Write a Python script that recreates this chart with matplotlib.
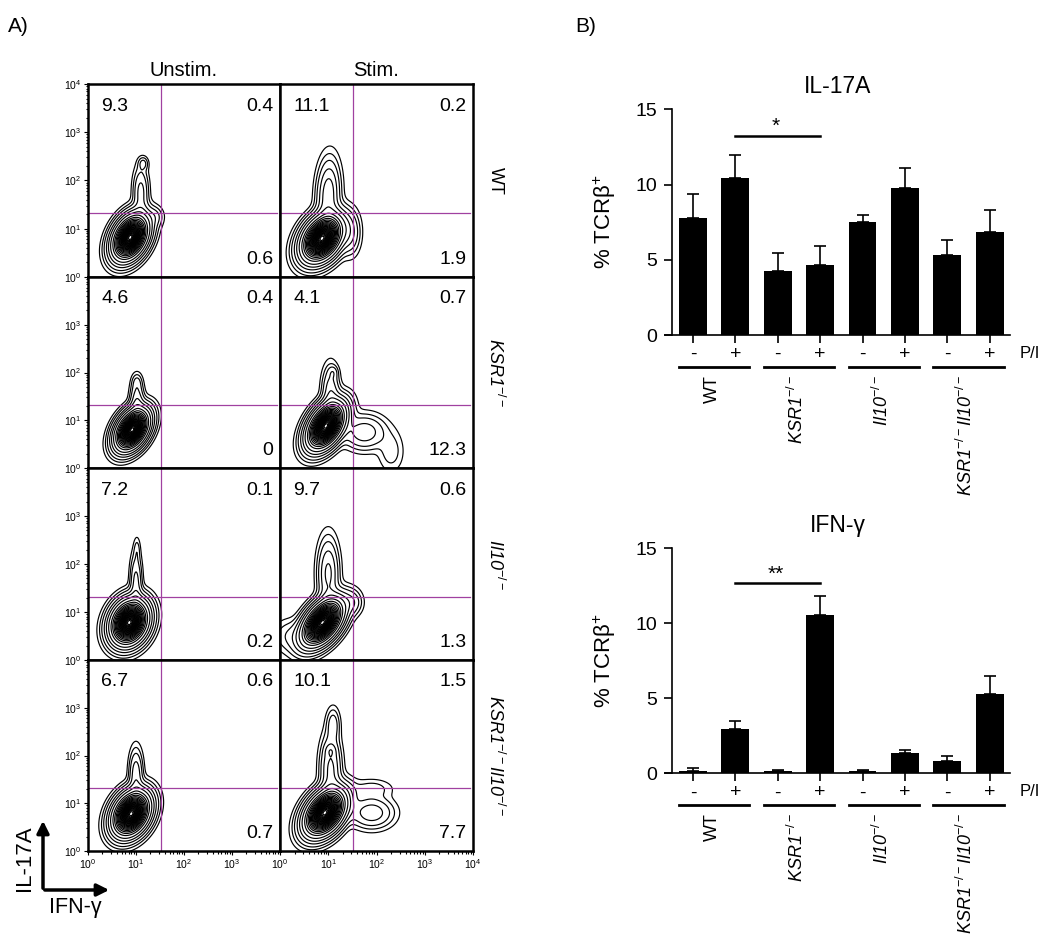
import numpy as np
import matplotlib
matplotlib.use("Agg")
import matplotlib.pyplot as plt

plt.rcParams['font.family'] = ['Liberation Sans', 'DejaVu Sans']
plt.rcParams['mathtext.fontset'] = 'custom'
plt.rcParams['mathtext.rm'] = 'Liberation Sans'
plt.rcParams['mathtext.it'] = 'Liberation Sans:italic'
plt.rcParams['mathtext.bf'] = 'Liberation Sans:bold'

# ---------------- data ----------------
genotypes = ['WT', r'KSR1$^{\mathit{-/-}}$', r'Il10$^{\mathit{-/-}}$',
             r'KSR1$^{\mathit{-/-}}$Il10$^{\mathit{-/-}}$']
genotype_italic = [False, True, True, True]
conditions = ['Unstim.', 'Stim.']
# quadrant percentages per panel: (upper-left, upper-right, lower-right)
quad_vals = [
    [('9.3', '0.4', '0.6'), ('11.1', '0.2', '1.9')],
    [('4.6', '0.4', '0'), ('4.1', '0.7', '12.3')],
    [('7.2', '0.1', '0.2'), ('9.7', '0.6', '1.3')],
    [('6.7', '0.6', '0.7'), ('10.1', '1.5', '7.7')],
]
gate_x = 33
gate_y = 21
# population blobs per panel in log10 units: (cx, cy, sx, sy, rho, weight)
populations = [
    [[(0.88, 0.82, 0.19, 0.24, 0.35, 1.0), (1.10, 1.75, 0.09, 0.30, 0.0, 0.025),
      (1.15, 2.35, 0.06, 0.08, 0.0, 0.012), (1.40, 1.25, 0.10, 0.12, 0.0, 0.01)],
     [(0.87, 0.80, 0.22, 0.25, 0.35, 1.0), (1.00, 1.70, 0.13, 0.40, 0.1, 0.05),
      (1.45, 0.90, 0.12, 0.25, 0.0, 0.02)]],
    [[(0.92, 0.80, 0.18, 0.22, 0.40, 1.0), (1.02, 1.40, 0.08, 0.25, 0.0, 0.03),
      (1.02, 1.80, 0.06, 0.10, 0.0, 0.008)],
     [(0.95, 0.88, 0.20, 0.25, 0.45, 1.0), (1.05, 1.60, 0.10, 0.30, 0.0, 0.03),
      (1.10, 2.00, 0.06, 0.08, 0.0, 0.01), (1.75, 0.75, 0.25, 0.20, 0.0, 0.03),
      (2.30, 0.35, 0.15, 0.25, 0.0, 0.008)]],
    [[(0.86, 0.78, 0.20, 0.24, 0.20, 1.0), (1.00, 1.60, 0.07, 0.35, 0.0, 0.025),
      (1.02, 2.30, 0.04, 0.15, 0.0, 0.006)],
     [(0.88, 0.78, 0.22, 0.25, 0.50, 1.0), (1.00, 1.80, 0.12, 0.40, 0.0, 0.04),
      (1.50, 1.20, 0.12, 0.15, 0.0, 0.015), (0.20, 0.50, 0.20, 0.20, 0.0, 0.01)]],
    [[(0.90, 0.78, 0.20, 0.24, 0.30, 1.0), (1.00, 1.60, 0.08, 0.30, 0.0, 0.03)],
     [(0.93, 0.80, 0.22, 0.25, 0.40, 1.0), (1.05, 1.70, 0.12, 0.40, 0.0, 0.04),
      (1.05, 2.10, 0.07, 0.08, 0.0, 0.012), (1.10, 2.65, 0.08, 0.20, 0.0, 0.015),
      (1.90, 0.80, 0.25, 0.18, 0.0, 0.03), (1.90, 1.30, 0.25, 0.12, 0.0, 0.008)]],
]

bar_labels = ['-', '+'] * 4
group_names = genotypes
il17_mean = [7.75, 10.45, 4.27, 4.62, 7.53, 9.78, 5.33, 6.87]
il17_top = [9.35, 11.93, 5.45, 5.93, 7.98, 11.1, 6.29, 8.33]
ifng_mean = [0.15, 2.93, 0.15, 10.58, 0.15, 1.38, 0.8, 5.27]
ifng_top = [0.33, 3.47, 0.25, 11.82, 0.25, 1.55, 1.15, 6.47]

W, H = 1050, 947
fig = plt.figure(figsize=(W / 100, H / 100), dpi=100)


def rect(x0, y0, x1, y1):
    return [x0 / W, 1 - y1 / H, (x1 - x0) / W, (y1 - y0) / H]


# ---------------- panel A: contour plots ----------------
col_edges = [88, 280, 473]
row_edges = [84, 277, 468, 660, 851]
g = np.linspace(-0.4, 4.0, 400)
GX, GY = np.meshgrid(g, g)
levels = [0.002, 0.005, 0.01, 0.02, 0.035] + list(np.linspace(0.06, 0.97, 24))

for r in range(4):
    for c in range(2):
        ax = fig.add_axes(rect(col_edges[c], row_edges[r], col_edges[c + 1], row_edges[r + 1]))
        z = np.zeros_like(GX)
        for k, (cx, cy, sx, sy, rho, w) in enumerate(populations[r][c]):
            dx = (GX - cx) / sx
            dy = (GY - cy) / sy
            q = (dx ** 2 - 2 * rho * dx * dy + dy ** 2) / (1 - rho ** 2)
            if k == 0:
                # main population: broad body with a sharper core
                z += w * (0.6 * np.exp(-0.5 * q) + 0.4 * np.exp(-0.5 * q / 0.3))
            else:
                z += w * np.exp(-0.5 * q)
        z = z / z.max()
        ax.contour(10 ** GX, 10 ** GY, z, levels=levels, colors='black', linewidths=0.85)
        ax.set_xscale('log')
        ax.set_yscale('log')
        ax.set_xlim(1, 1e4)
        ax.set_ylim(1, 1e4)
        ax.axvline(gate_x, color='#a040a0', lw=0.9)
        ax.axhline(gate_y, color='#a040a0', lw=0.9, xmax=0.985)
        for s in ax.spines.values():
            s.set_linewidth(1.8)
        ul, ur, lr = quad_vals[r][c]
        ax.text(0.07, 0.885, ul, transform=ax.transAxes, fontsize=14, va='center', ha='left')
        ax.text(0.965, 0.885, ur, transform=ax.transAxes, fontsize=14, va='center', ha='right')
        ax.text(0.965, 0.09, lr, transform=ax.transAxes, fontsize=14, va='center', ha='right')
        ax.tick_params(which='both', direction='out', labelsize=7.5, width=0.8)
        ax.tick_params(which='major', length=3)
        ax.tick_params(which='minor', length=1.8)
        ax.tick_params(top=False, right=False)
        if c == 1:
            ax.tick_params(axis='y', which='both', left=False, labelleft=False)
        else:
            ax.set_yticks([1, 10, 100, 1000, 10000] if r == 0 else [1, 10, 100, 1000])
        if r < 3:
            ax.tick_params(axis='x', which='both', bottom=False, labelbottom=False)
        else:
            ax.set_xticks([1, 10, 100, 1000, 10000] if c == 1 else [1, 10, 100, 1000])
        ax.tick_params(pad=1.5)
        if r == 0:
            ax.set_title(conditions[c], fontsize=14.5, pad=6)
        if c == 1:
            fig.text(495 / W, 1 - (row_edges[r] + row_edges[r + 1]) / 2 / H, genotypes[r],
                     rotation=-90, ha='center', va='center', fontsize=13,
                     style='italic' if genotype_italic[r] else 'normal')

fig.text(8 / W, 1 - 26 / H, 'A)', fontsize=15, va='center', ha='left')
fig.text(575 / W, 1 - 26 / H, 'B)', fontsize=15, va='center', ha='left')

# axis arrows
fig.add_artist(matplotlib.patches.FancyArrowPatch((43 / W, 1 - 891 / H), (43 / W, 1 - 818 / H),
               transform=fig.transFigure, arrowstyle='-|>', mutation_scale=18, lw=2.5, color='black'))
fig.add_artist(matplotlib.patches.FancyArrowPatch((42 / W, 1 - 890 / H), (112 / W, 1 - 890 / H),
               transform=fig.transFigure, arrowstyle='-|>', mutation_scale=18, lw=2.5, color='black'))
fig.text(25 / W, 1 - 858 / H, 'IL-17A', rotation=90, fontsize=16, ha='center', va='center')
fig.text(75 / W, 1 - 907 / H, 'IFN-γ', fontsize=15.5, ha='center', va='center')

# ---------------- panel B: bar charts ----------------
x = np.arange(8)


def bar_panel(y_top, y_bottom, means, tops, title, sig_y, sig_text, ylab_y):
    ax = fig.add_axes(rect(665, y_top, 1010, y_bottom))
    ax.set_xlim(-0.66, 7.48)
    ax.set_ylim(0, 15)
    err = np.array(tops) - np.array(means)
    ax.errorbar(x, means, yerr=[np.zeros(8), err], fmt='none', ecolor='black',
                elinewidth=1.2, capsize=4, capthick=1.2, zorder=1)
    ax.bar(x, means, width=0.66, color='black', zorder=2)
    ax.spines['top'].set_visible(False)
    ax.spines['right'].set_visible(False)
    ax.spines['left'].set_position(('data', -0.495))
    ax.spines['left'].set_linewidth(1.2)
    ax.spines['bottom'].set_linewidth(1.2)
    ax.set_yticks([0, 5, 10, 15])
    ax.tick_params(axis='y', direction='out', length=5.5, width=1.2, labelsize=14, pad=5)
    ax.set_xticks(x)
    ax.set_xticklabels(bar_labels, fontsize=14)
    ax.tick_params(axis='x', direction='out', length=6, width=1.2, pad=2)
    # group bars and names
    for i in range(4):
        x0, x1 = 2 * i - 0.33, 2 * i + 1.33
        ax.plot([x0, x1], [-2.1, -2.1], color='black', lw=2, clip_on=False)
        ax.text(2 * i + 0.45, -2.65, group_names[i], rotation=90, ha='center', va='top',
                fontsize=13, style='italic' if genotype_italic[i] else 'normal')
    ax.text(7.7, -1.2, 'P/I', fontsize=12, ha='left', va='center', clip_on=False)
    # significance
    ax.plot([1, 3], [sig_y, sig_y], color='black', lw=1.8, clip_on=False)
    ax.text(1.95, sig_y + 0.6, sig_text, ha='center', va='center', fontsize=15)
    ax.set_title(title, fontsize=16.5, pad=12)
    fig.text(605 / W, 1 - ylab_y / H, '% TCRβ$^{+}$', rotation=90, fontsize=16,
             ha='center', va='center')
    return ax


bar_panel(109.3, 335, il17_mean, il17_top, 'IL-17A', 13.25, '*', 222)
bar_panel(548.3, 773.3, ifng_mean, ifng_top, 'IFN-γ', 12.67, '**', 661)

fig.savefig('out.png', dpi=100)
